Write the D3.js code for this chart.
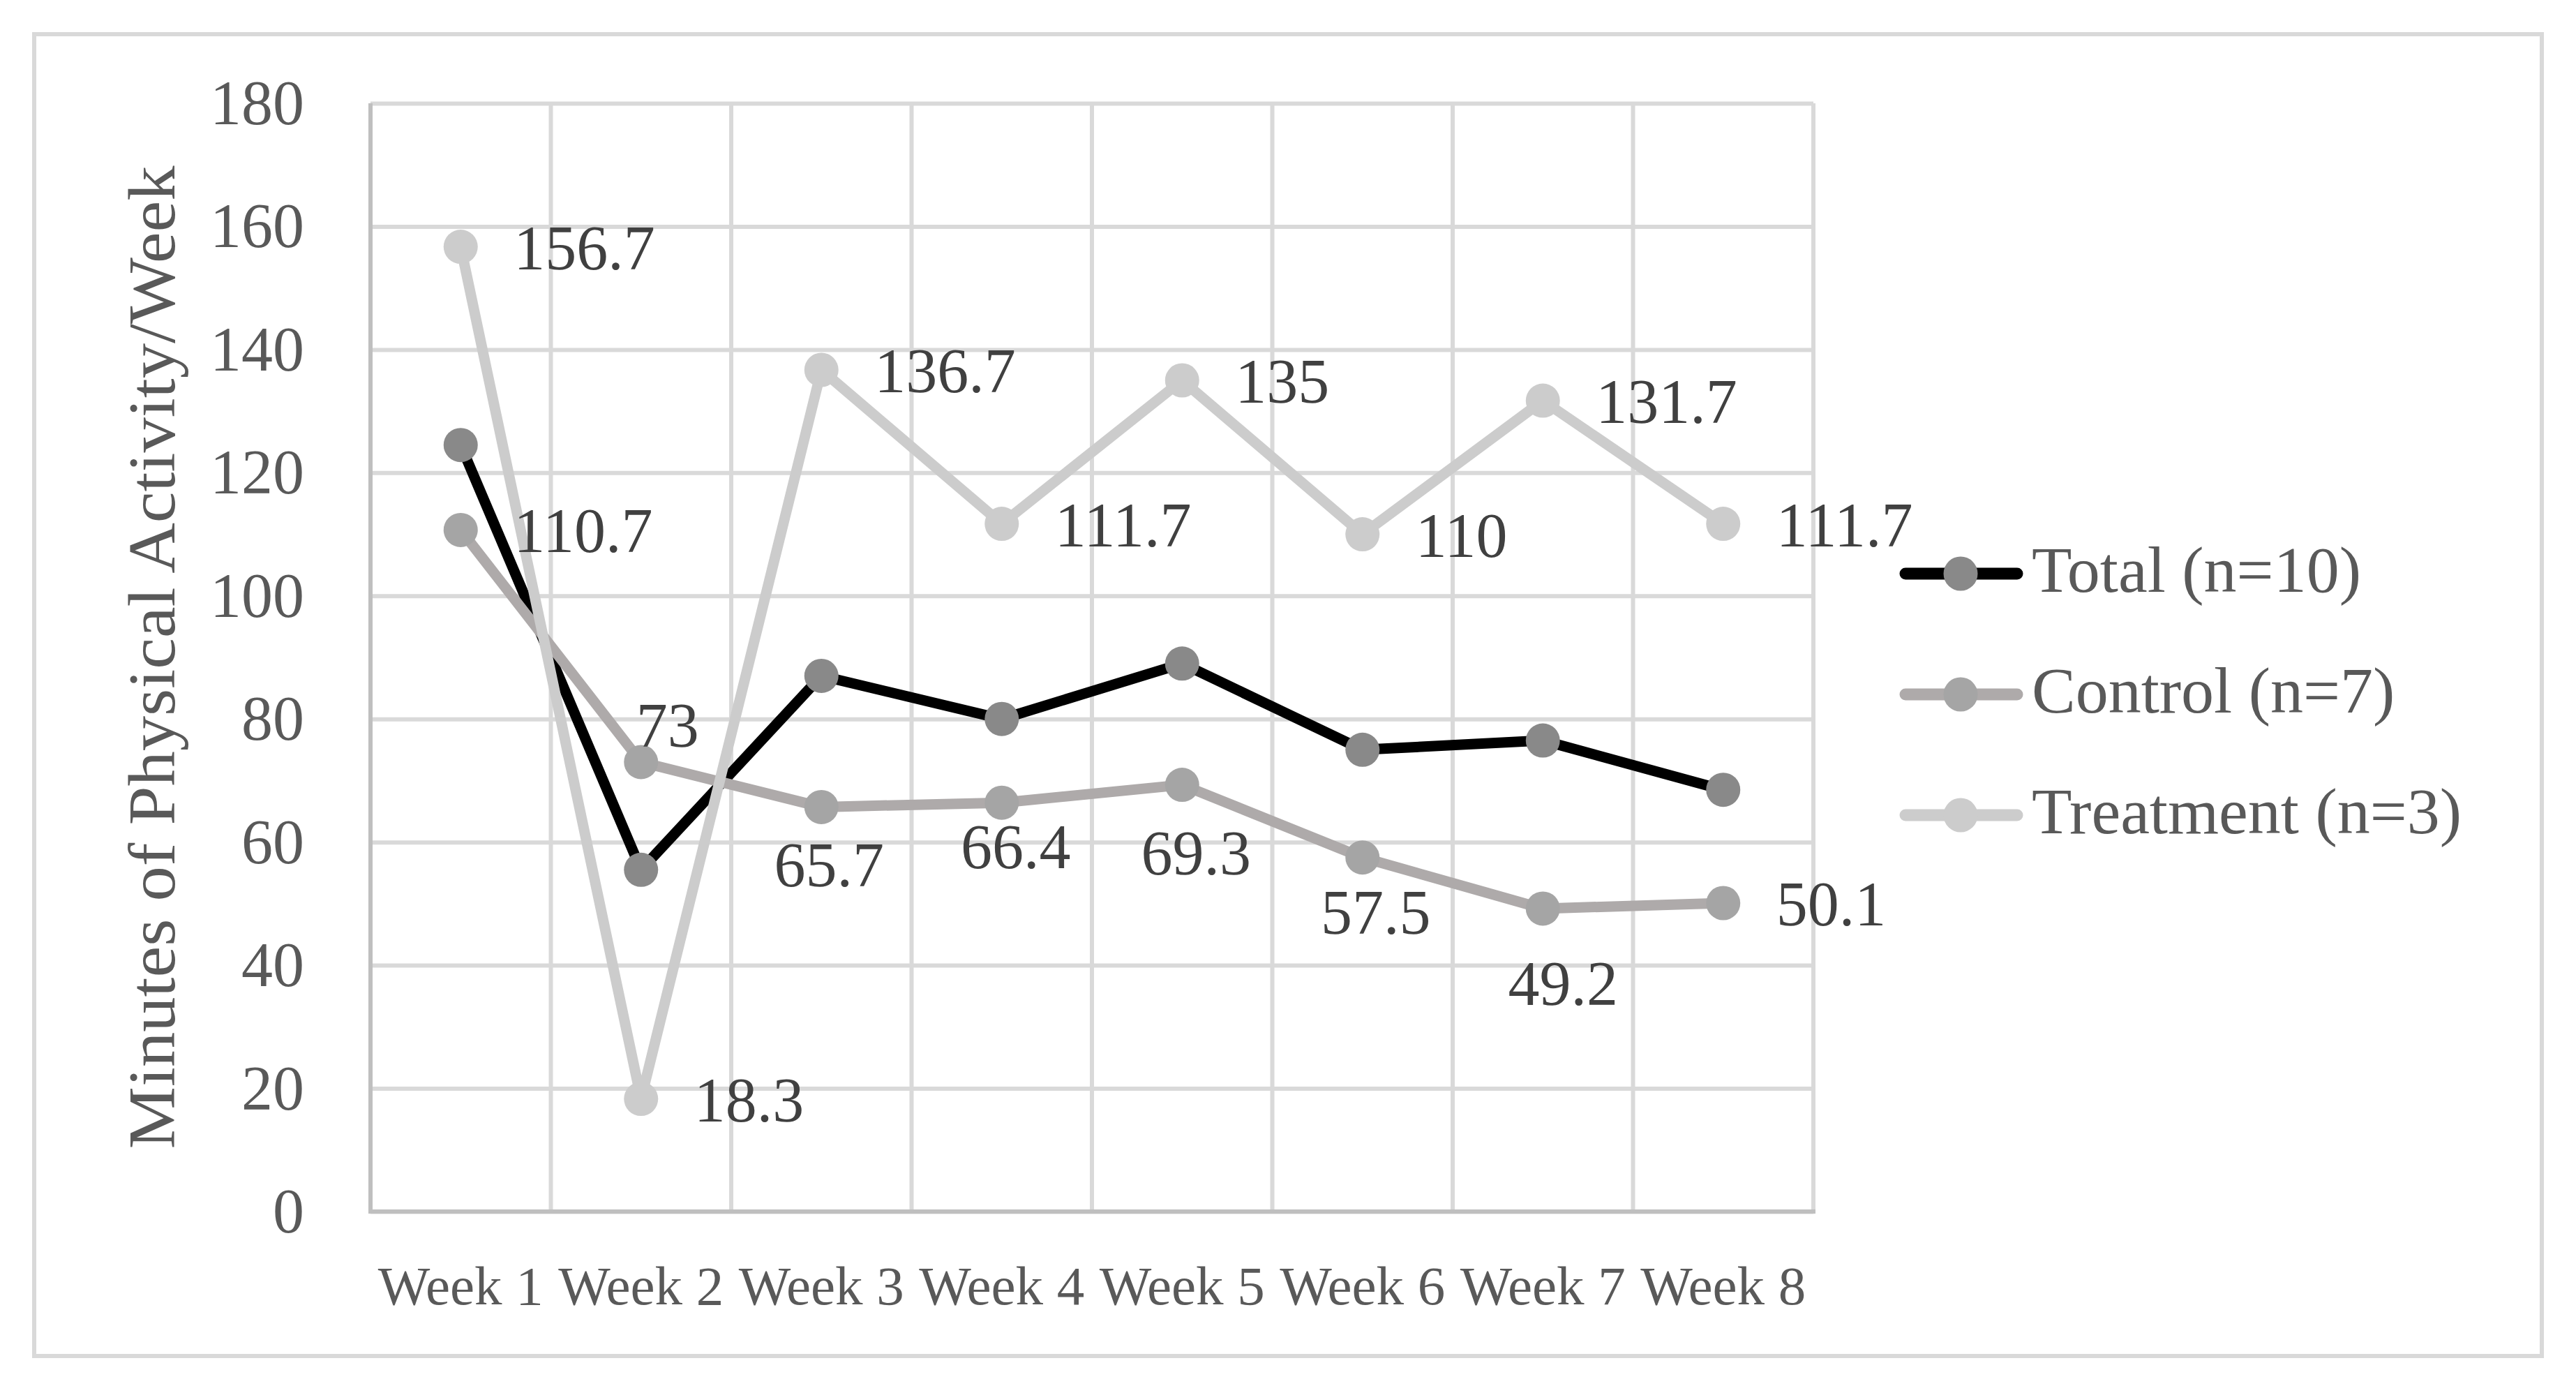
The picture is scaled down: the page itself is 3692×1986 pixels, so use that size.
<!DOCTYPE html>
<html>
<head>
  <meta charset="utf-8">
  <title>Minutes of Physical Activity per Week</title>
  <script src="https://d3js.org/d3.v7.min.js"></script>
  <style>
    body {
      margin: 0;
      background: #fff;
    }
    svg text {
      font-family: "Liberation Serif", "DejaVu Serif", serif;
    }
    .grid line { stroke: #d9d9d9; stroke-width: 6; }
    .grid path { display: none; }
    .tick-label { fill: #595959; }
    .data-label { fill: #404040; font-size: 90px; }
  </style>
</head>
<body>
  <div id="chart"></div>

  <script>
    // data
    const weeks = ["Week 1", "Week 2", "Week 3", "Week 4", "Week 5", "Week 6", "Week 7", "Week 8"];
    const totalValues = [124.5, 55.5, 87, 80, 89, 75, 76.5, 68.5];
    const controlValues = [110.7, 73, 65.7, 66.4, 69.3, 57.5, 49.2, 50.1];
    const treatmentValues = [156.7, 18.3, 136.7, 111.7, 135, 110, 131.7, 111.7];
    const yTicks = [0, 20, 40, 60, 80, 100, 120, 140, 160, 180];
    const seriesNames = ["Total (n=10)", "Control (n=7)", "Treatment (n=3)"];

    // where each data label sits relative to its point
    const controlLabelPos = ["right", "above", "below", "below", "below", "below", "below", "right"];
    const controlLabelNudge = [[0, 0], [0, 0], [11, 83], [20, 63], [20, 97], [19, 78], [29, 107], [0, 0]];

    const width = 3692;
    const height = 1986;
    const plot = { left: 531, right: 2599, top: 148, bottom: 1736 };

    const svg = d3.select("#chart")
      .append("svg")
      .attr("width", width)
      .attr("height", height);

    // outer chart border
    svg.append("rect")
      .attr("x", 49).attr("y", 49)
      .attr("width", 3594).attr("height", 1894)
      .attr("fill", "#fff")
      .attr("stroke", "#d9d9d9")
      .attr("stroke-width", 6);

    const x = d3.scaleBand()
      .domain(weeks)
      .range([plot.left, plot.right])
      .padding(0);

    const y = d3.scaleLinear()
      .domain([0, 180])
      .range([plot.bottom, plot.top]);

    const cx = d => x(d) + x.bandwidth() / 2;

    // horizontal gridlines
    svg.append("g")
      .attr("class", "grid")
      .attr("transform", `translate(${plot.left},0)`)
      .call(d3.axisLeft(y).tickValues(yTicks).tickSize(-(plot.right - plot.left)).tickFormat(""));

    // vertical gridlines on category boundaries
    const bounds = weeks.map(w => x(w)).concat([plot.right]);
    svg.append("g")
      .selectAll("line")
      .data(bounds)
      .enter().append("line")
      .attr("x1", d => d).attr("x2", d => d)
      .attr("y1", plot.top).attr("y2", plot.bottom)
      .attr("stroke", "#d9d9d9")
      .attr("stroke-width", 6);

    // axis lines
    svg.append("line")
      .attr("x1", plot.left).attr("x2", plot.left)
      .attr("y1", plot.top).attr("y2", plot.bottom + 3)
      .attr("stroke", "#bfbfbf").attr("stroke-width", 6);
    svg.append("line")
      .attr("x1", plot.left - 3).attr("x2", plot.right + 3)
      .attr("y1", plot.bottom).attr("y2", plot.bottom)
      .attr("stroke", "#bfbfbf").attr("stroke-width", 6);

    // y tick labels
    svg.append("g")
      .selectAll("text")
      .data(yTicks)
      .enter().append("text")
      .attr("class", "tick-label")
      .attr("x", 436)
      .attr("y", d => y(d) + 30)
      .attr("text-anchor", "end")
      .style("font-size", "90px")
      .text(d => d);

    // x tick labels
    svg.append("g")
      .selectAll("text")
      .data(weeks)
      .enter().append("text")
      .attr("class", "tick-label")
      .attr("x", d => cx(d))
      .attr("y", 1869)
      .attr("text-anchor", "middle")
      .style("font-size", "79px")
      .text(d => d);

    // y axis title
    svg.append("text")
      .attr("class", "tick-label")
      .attr("transform", `translate(250,${(plot.top + plot.bottom) / 2}) rotate(-90)`)
      .attr("text-anchor", "middle")
      .attr("textLength", 1409)
      .attr("lengthAdjust", "spacingAndGlyphs")
      .style("font-size", "96px")
      .text("Minutes of Physical Activity/Week");

    const series = [
      { name: seriesNames[0], values: totalValues, line: "#000000", marker: "#898989" },
      { name: seriesNames[1], values: controlValues, line: "#aeaaaa", marker: "#a5a5a5" },
      { name: seriesNames[2], values: treatmentValues, line: "#cccccc", marker: "#cccccc" }
    ];

    const line = d3.line()
      .x((d, i) => cx(weeks[i]))
      .y(d => y(d));

    series.forEach(s => {
      const g = svg.append("g");
      g.append("path")
        .datum(s.values)
        .attr("d", line)
        .attr("fill", "none")
        .attr("stroke", s.line)
        .attr("stroke-width", 15)
        .attr("stroke-linejoin", "round");
      g.selectAll("circle")
        .data(s.values)
        .enter().append("circle")
        .attr("cx", (d, i) => cx(weeks[i]))
        .attr("cy", d => y(d))
        .attr("r", 24.5)
        .attr("fill", s.marker);
    });

    // data labels: treatment all to the right
    svg.append("g")
      .selectAll("text")
      .data(treatmentValues)
      .enter().append("text")
      .attr("class", "data-label")
      .attr("x", (d, i) => cx(weeks[i]) + 76)
      .attr("y", d => y(d) + 32)
      .text(d => d);

    // control labels
    svg.append("g")
      .selectAll("text")
      .data(controlValues)
      .enter().append("text")
      .attr("class", "data-label")
      .attr("x", (d, i) => {
        const p = controlLabelPos[i];
        if (p === "right") return cx(weeks[i]) + 76;
        if (p === "above") return cx(weeks[i]) - 7;
        return cx(weeks[i]) + controlLabelNudge[i][0];
      })
      .attr("y", (d, i) => {
        const p = controlLabelPos[i];
        if (p === "right") return y(d) + 32;
        if (p === "above") return y(d) - 22;
        return y(d) + controlLabelNudge[i][1] + 31;
      })
      .attr("text-anchor", (d, i) => controlLabelPos[i] === "below" ? "middle" : "start")
      .text(d => d);

    // legend
    const legend = svg.append("g")
      .attr("transform", "translate(2723,0)");
    const legendY = d3.scalePoint()
      .domain(seriesNames)
      .range([822, 1168]);

    const items = legend.selectAll("g")
      .data(series)
      .enter().append("g")
      .attr("transform", d => `translate(0,${legendY(d.name)})`);
    items.append("line")
      .attr("x1", 8).attr("x2", 168)
      .attr("stroke", d => d.line)
      .attr("stroke-width", 17)
      .attr("stroke-linecap", "round");
    items.append("circle")
      .attr("cx", 87)
      .attr("r", 24.5)
      .attr("fill", d => d.marker);
    items.append("text")
      .attr("class", "tick-label")
      .attr("x", 189)
      .attr("y", 26)
      .style("font-size", "94px")
      .text(d => d.name);
  </script>
</body>
</html>
